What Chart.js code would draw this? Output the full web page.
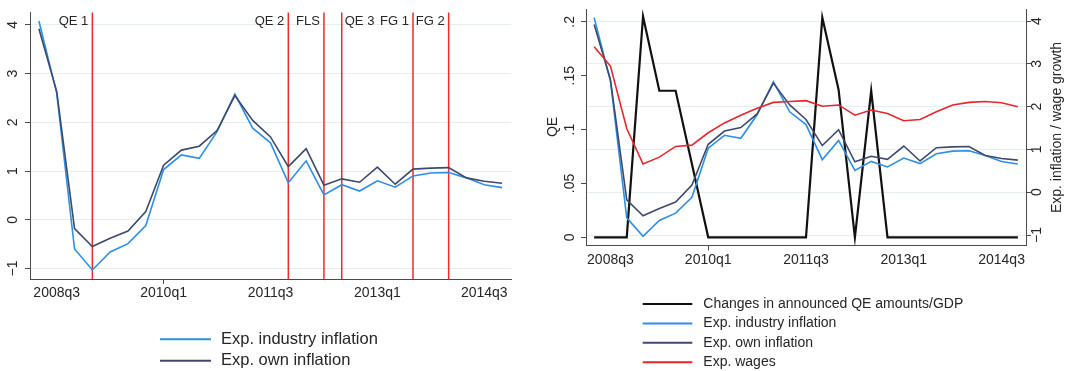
<!DOCTYPE html>
<html>
<head>
<meta charset="utf-8">
<script src="https://cdn.jsdelivr.net/npm/chart.js@4.4.1/dist/chart.umd.min.js"></script>
<style>
  html, body { margin: 0; padding: 0; background: #fff; }
  #wrap { position: relative; width: 1069px; height: 371px; overflow: hidden; background: #fff; }
  #c1 { position: absolute; left: 0; top: 0; }
  #c2 { position: absolute; left: 540px; top: 0; }
</style>
</head>
<body>
<div id="wrap">
  <canvas id="c1" width="540" height="371"></canvas>
  <canvas id="c2" width="529" height="371"></canvas>
</div>
<script>
// Quarterly survey expectations, 2008q2 - 2014q4
const quarters = [
  '2008q2','2008q3','2008q4','2009q1','2009q2','2009q3','2009q4',
  '2010q1','2010q2','2010q3','2010q4','2011q1','2011q2','2011q3','2011q4',
  '2012q1','2012q2','2012q3','2012q4','2013q1','2013q2','2013q3','2013q4',
  '2014q1','2014q2','2014q3','2014q4'
];
const industryInflation = [4.08, 2.60, -0.60, -1.03, -0.66, -0.49, -0.12, 1.03, 1.33, 1.26, 1.81, 2.58, 1.88, 1.58, 0.76, 1.21, 0.51, 0.72, 0.59, 0.80, 0.67, 0.90, 0.96, 0.97, 0.86, 0.72, 0.66];
const ownInflation      = [3.92, 2.63, -0.18, -0.55, -0.38, -0.23, 0.17, 1.12, 1.43, 1.51, 1.83, 2.55, 2.04, 1.70, 1.09, 1.46, 0.71, 0.84, 0.77, 1.08, 0.73, 1.04, 1.06, 1.07, 0.86, 0.79, 0.75];
const expWages          = [3.40, 2.95, 1.49, 0.66, 0.82, 1.07, 1.10, 1.39, 1.62, 1.80, 1.96, 2.10, 2.12, 2.14, 2.01, 2.04, 1.80, 1.92, 1.84, 1.67, 1.70, 1.88, 2.04, 2.10, 2.12, 2.09, 2.00];
const qeChanges         = [0, 0, 0, 0.205, 0.136, 0.136, 0.068, 0, 0, 0, 0, 0, 0, 0, 0.204, 0.137, 0, 0.136, 0, 0, 0, 0, 0, 0, 0, 0, 0];

// Policy announcements marked with vertical lines
const eventQuarters = ['2009q1', '2011q4', '2012q2', '2012q3', '2013q3', '2014q1'];
const eventLabels   = ['QE 1', 'QE 2', 'FLS', 'QE 3', 'FG 1', 'FG 2'];

// Axis ticks
const xTickLabels = ['2008q3', '2010q1', '2011q3', '2013q1', '2014q3'];
const inflationTicks = [-1, 0, 1, 2, 3, 4];
const qeTicks = [0, 0.05, 0.1, 0.15, 0.2];

// ---- styling ----
const FONT = '"Liberation Sans", Arial, Helvetica, sans-serif';
const AXIS = '#4a4a4a';
const GRID = '#e5eef0';
const TEXT = '#262626';
const C_IND = '#2b8fe8';
const C_OWN = '#3e4a6b';
const C_WAGE = '#e8262b';
const C_QE = '#111111';
const C_EVENT = '#ee2a2a';
const eventLabelSide = ['right', 'right', 'right', 'left', 'right', 'right'];

const signed = v => (v < 0 ? '\u2212' + Math.abs(v) : String(v));
const noLeadZero = v => (v === 0 ? '0' : String(+v.toFixed(2)).replace(/^0\./, '.'));

// vertical event lines with their labels
const eventPlugin = {
  id: 'eventLines',
  beforeDatasetsDraw(chart, args, o) {
    const { ctx, chartArea, scales } = chart;
    const x = scales.x;
    ctx.save();
    ctx.strokeStyle = C_EVENT;
    ctx.lineWidth = 1.5;
    ctx.font = `${o.fontSize}px ${FONT}`;
    ctx.fillStyle = TEXT;
    ctx.textBaseline = 'middle';
    eventQuarters.forEach((q, i) => {
      const px = x.getPixelForValue(quarters.indexOf(q));
      ctx.beginPath();
      ctx.moveTo(px, chartArea.top);
      ctx.lineTo(px, chartArea.bottom);
      ctx.stroke();
      if (eventLabelSide[i] === 'right') {
        ctx.textAlign = 'right';
        ctx.fillText(eventLabels[i], px - 4, o.labelY);
      } else {
        ctx.textAlign = 'left';
        ctx.fillText(eventLabels[i], px + 3, o.labelY);
      }
    });
    ctx.restore();
  }
};

// stacked legend below the plot
const stackLegend = {
  id: 'stackLegend',
  afterDraw(chart, args, o) {
    const ctx = chart.ctx;
    ctx.save();
    ctx.font = `${o.fontSize}px ${FONT}`;
    ctx.textBaseline = 'middle';
    ctx.textAlign = 'left';
    ctx.fillStyle = TEXT;
    chart.data.datasets.forEach((ds, i) => {
      const y = o.y + i * o.rowGap;
      ctx.strokeStyle = ds.borderColor;
      ctx.lineWidth = o.lineWidth;
      ctx.beginPath();
      ctx.moveTo(o.x, y);
      ctx.lineTo(o.x + o.lineLen, y);
      ctx.stroke();
      ctx.fillText(ds.label, o.textX, y);
    });
    ctx.restore();
  }
};

// rotated axis titles (reading bottom to top)
const axisTitles = {
  id: 'axisTitles',
  afterDraw(chart, args, o) {
    const ctx = chart.ctx;
    (o.items || []).forEach(t => {
      ctx.save();
      ctx.translate(t.x, t.y);
      ctx.rotate(-Math.PI / 2);
      ctx.font = `${t.size}px ${FONT}`;
      ctx.fillStyle = TEXT;
      ctx.textAlign = 'center';
      ctx.textBaseline = 'middle';
      ctx.fillText(t.text, 0, 0);
      ctx.restore();
    });
  }
};

function xAxis(height) {
  return {
    type: 'category',
    offset: true,
    grid: {
      display: true, drawOnChartArea: false, offset: false, tickLength: 5,
      color: AXIS,
      tickColor: c => (xTickLabels.includes(quarters[c.index]) ? AXIS : 'rgba(0,0,0,0)')
    },
    border: { display: true, color: AXIS, width: 1 },
    ticks: {
      autoSkip: false, maxRotation: 0, minRotation: 0, padding: 1,
      color: TEXT, font: { family: FONT, size: 14 },
      callback(v) {
        const l = this.getLabelForValue(v);
        return xTickLabels.includes(l) ? l : null;
      }
    },
    afterFit: s => { s.height = height; }
  };
}

function yAxis(opt) {
  return {
    type: 'linear',
    position: opt.position,
    min: opt.min,
    max: opt.max,
    afterBuildTicks: s => { s.ticks = opt.values.map(v => ({ value: v })); },
    grid: { drawOnChartArea: opt.gridOn, color: GRID, tickColor: AXIS, tickLength: 5, lineWidth: 1 },
    border: { display: true, color: AXIS, width: 1 },
    ticks: {
      autoSkip: false, minRotation: 90, maxRotation: 90, crossAlign: 'center',
      padding: opt.padding, color: TEXT, font: { family: FONT, size: 14 },
      callback: opt.format
    },
    afterFit: s => { s.width = opt.width; }
  };
}

const line = (label, data, color, width, order, axis) => ({
  label, data, borderColor: color, backgroundColor: color, borderWidth: width,
  pointRadius: 0, pointHoverRadius: 0, tension: 0, fill: false, order,
  yAxisID: axis
});

// ---- left panel: expectations with policy events ----
new Chart(document.getElementById('c1'), {
  type: 'line',
  data: {
    labels: quarters,
    datasets: [
      line('Exp. industry inflation', industryInflation, C_IND, 1.6, 2, 'y'),
      line('Exp. own inflation', ownInflation, C_OWN, 1.6, 1, 'y')
    ]
  },
  options: {
    responsive: false,
    animation: false,
    events: [],
    layout: { padding: { top: 8, right: 29, left: 0, bottom: 0 } },
    scales: {
      x: xAxis(92),
      y: yAxis({ position: 'left', min: -1.216, max: 4.257, values: inflationTicks, gridOn: true, padding: 4, width: 30, format: signed })
    },
    plugins: {
      legend: { display: false },
      tooltip: { enabled: false },
      eventLines: { fontSize: 13, labelY: 21.7 },
      stackLegend: { x: 160, lineLen: 51, textX: 221, y: 339.3, rowGap: 21.4, fontSize: 16.5, lineWidth: 2 }
    }
  },
  plugins: [eventPlugin, stackLegend]
});

// ---- right panel: QE announcements against expectations ----
new Chart(document.getElementById('c2'), {
  type: 'line',
  data: {
    labels: quarters,
    datasets: [
      line('Changes in announced QE amounts/GDP', qeChanges, C_QE, 2.2, 4, 'y'),
      line('Exp. industry inflation', industryInflation, C_IND, 1.6, 3, 'y1'),
      line('Exp. own inflation', ownInflation, C_OWN, 1.6, 2, 'y1'),
      line('Exp. wages', expWages, C_WAGE, 1.6, 1, 'y1')
    ]
  },
  options: {
    responsive: false,
    animation: false,
    events: [],
    layout: { padding: { top: 9, right: 0, left: 0, bottom: 0 } },
    scales: {
      x: xAxis(125.5),
      y: yAxis({ position: 'left', min: -0.0076, max: 0.2115, values: qeTicks, gridOn: false, padding: 1, width: 46, format: noLeadZero }),
      y1: yAxis({ position: 'right', min: -1.245, max: 4.273, values: inflationTicks, gridOn: true, padding: -2, width: 43, format: signed })
    },
    plugins: {
      legend: { display: false },
      tooltip: { enabled: false },
      stackLegend: { x: 102.7, lineLen: 49.6, textX: 163.3, y: 304, rowGap: 19.4, fontSize: 14, lineWidth: 2 },
      axisTitles: {
        items: [
          { text: 'QE', x: 13, y: 127, size: 14 },
          { text: 'Exp. inflation / wage growth', x: 516.7, y: 127.5, size: 14 }
        ]
      }
    }
  },
  plugins: [stackLegend, axisTitles]
});
</script>
</body>
</html>
